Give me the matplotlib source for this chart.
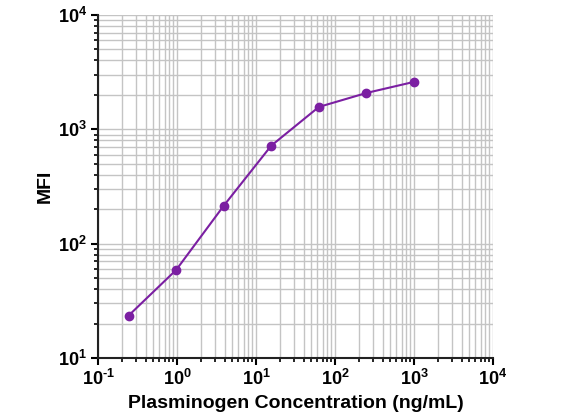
import matplotlib
matplotlib.use("Agg")
import matplotlib.pyplot as plt
from matplotlib.ticker import LogLocator, NullFormatter, FuncFormatter
import math

conc = [0.244, 0.977, 3.91, 15.6, 62.5, 250, 1000]
mfi = [23.5, 59, 215, 720, 1570, 2080, 2600]

plt.rcParams['font.family'] = ['Liberation Sans', 'DejaVu Sans']
plt.rcParams['font.weight'] = 'bold'
plt.rcParams['mathtext.fontset'] = 'custom'
plt.rcParams['mathtext.rm'] = 'Liberation Sans:bold'
plt.rcParams['mathtext.bf'] = 'Liberation Sans:bold'
fig = plt.figure(figsize=(5.8, 4.19), dpi=100)
ax = fig.add_axes([0.169, 0.1456, 0.681, 0.8186])
ax.set_xscale('log')
ax.set_yscale('log')
ax.set_xlim(0.1, 1e4)
ax.set_ylim(10, 1e4)

ax.grid(True, which='both', color='#c4c4c4', linewidth=1.0)
ax.set_axisbelow(True)
ax.plot(conc, mfi, color='#7b1fa2', linewidth=1.5, marker='o', markersize=6, zorder=3)

for s in ['top', 'right']:
    ax.spines[s].set_visible(False)
for s in ['left', 'bottom']:
    ax.spines[s].set_linewidth(1.5)
    ax.spines[s].set_color('#222222')

def fmt(v, pos):
    e = int(round(math.log10(v)))
    es = str(e).replace('-', '\\text{-}')
    return r'$\mathregular{10^{%s}}$' % es

ax.xaxis.set_major_locator(LogLocator(base=10, numticks=10))
ax.xaxis.set_minor_locator(LogLocator(base=10, subs=range(2, 10), numticks=50))
ax.yaxis.set_major_locator(LogLocator(base=10, numticks=10))
ax.yaxis.set_minor_locator(LogLocator(base=10, subs=range(2, 10), numticks=50))
ax.xaxis.set_major_formatter(FuncFormatter(fmt))
ax.yaxis.set_major_formatter(FuncFormatter(fmt))
ax.xaxis.set_minor_formatter(NullFormatter())
ax.yaxis.set_minor_formatter(NullFormatter())
ax.tick_params(which='major', length=5, width=1.5, labelsize=13, direction='out', pad=3)
ax.tick_params(which='minor', length=3, width=1.2, direction='out')

ax.set_xlabel('Plasminogen Concentration (ng/mL)', fontsize=14, fontweight='bold', labelpad=4)
ax.set_ylabel('MFI', fontsize=14, fontweight='bold', labelpad=3)

fig.savefig('out.png', dpi=100)
